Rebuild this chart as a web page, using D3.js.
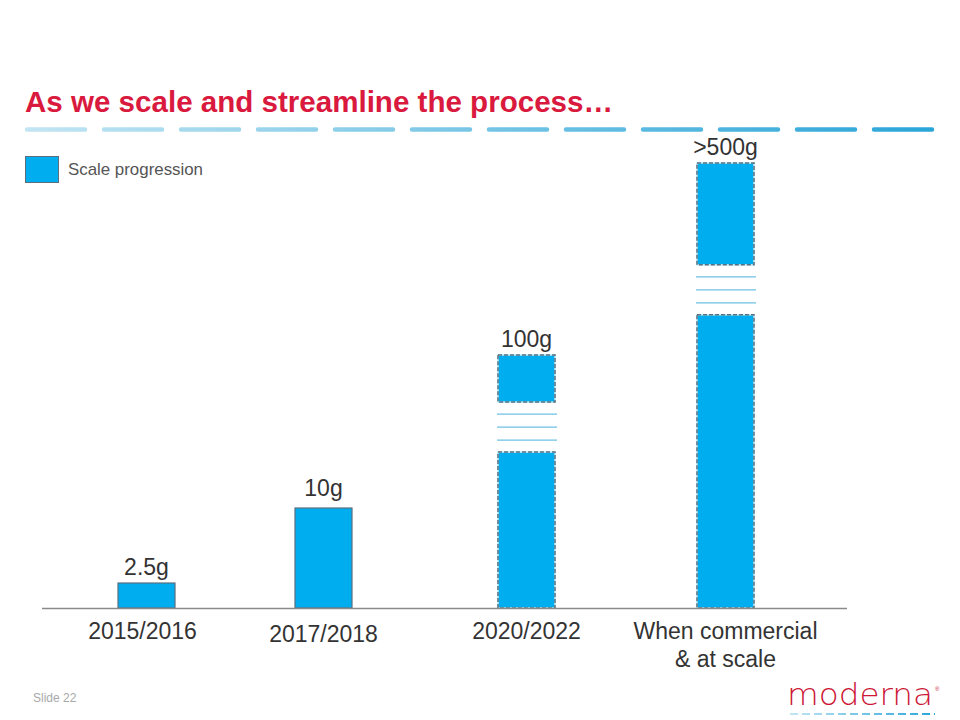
<!DOCTYPE html>
<html>
<head>
<meta charset="utf-8">
<script src="https://cdn.jsdelivr.net/npm/d3@7/dist/d3.min.js"></script>
<style>
  html, body { margin: 0; padding: 0; background: #fff; }
  svg { display: block; }
</style>
</head>
<body>
<script>
// ---------- DATA ----------
const categories = ["2015/2016", "2017/2018", "2020/2022", "When commercial\n& at scale"];
const values = [2.5, 10, 100, 500];
const valueLabels = ["2.5g", "10g", "100g", ">500g"];
const brokenAxis = [false, false, true, true];
const seriesName = "Scale progression";
const titleText = "As we scale and streamline the process…";

// ---------- SETUP ----------
const W = 960, H = 720;
const svg = d3.select("body").append("svg").attr("width", W).attr("height", H);
const defs = svg.append("defs");

const BAR_FILL = "#00ADEF";
const BAR_STROKE = "#5B6F7E";
const FONT = "'Liberation Sans', Arial, sans-serif";

function grad(id, x1, x2, c1, c2) {
  const g = defs.append("linearGradient").attr("id", id)
    .attr("gradientUnits", "userSpaceOnUse")
    .attr("x1", x1).attr("x2", x2).attr("y1", 0).attr("y2", 0);
  g.append("stop").attr("offset", 0).attr("stop-color", c1);
  g.append("stop").attr("offset", 1).attr("stop-color", c2);
}
grad("titleGrad", 25, 935, "#C2E5F3", "#2AA5D8");
grad("logoGrad", 790, 935, "#C2E5F3", "#2AA5D8");

// ---------- TITLE ----------
svg.append("text")
  .attr("x", 25).attr("y", 112)
  .attr("font-family", FONT)
  .attr("font-weight", "bold")
  .attr("font-size", 30)
  .attr("fill", "#D9193D")
  .attr("textLength", 588).attr("lengthAdjust", "spacingAndGlyphs")
  .text(titleText);

svg.append("line")
  .attr("x1", 27).attr("x2", 934).attr("y1", 129.5).attr("y2", 129.5)
  .attr("stroke", "url(#titleGrad)").attr("stroke-width", 4.5)
  .attr("stroke-linecap", "round")
  .attr("stroke-dasharray", "58 19");

// ---------- LEGEND ----------
svg.append("rect")
  .attr("x", 25.5).attr("y", 156.5).attr("width", 33).attr("height", 26)
  .attr("fill", BAR_FILL).attr("stroke", BAR_STROKE).attr("stroke-width", 1);
svg.append("text")
  .attr("x", 68).attr("y", 174.5)
  .attr("font-family", FONT)
  .attr("font-size", 17).attr("fill", "#555")
  .attr("textLength", 135).attr("lengthAdjust", "spacingAndGlyphs")
  .text(seriesName);

// ---------- SCALES ----------
const baseY = 608;
// broken (piecewise) value axis
const y = d3.scaleLinear().domain([0, 10, 100, 500]).range([baseY, 508, 355, 163]);
// category centres
const x = d3.scaleLinear().domain([0, 1, 2, 3]).range([146.5, 323.5, 526.5, 725.5]);
const barW = 57;

// ---------- BARS ----------
const data = categories.map((c, i) => ({ c, i, v: values[i], label: valueLabels[i], broken: brokenAxis[i] }));
const g = svg.append("g");

data.forEach(d => {
  const cx = x(d.i);
  const x0 = cx - barW / 2;
  const top = y(d.v);
  const h = baseY - top;
  if (!d.broken) {
    g.append("rect")
      .attr("x", x0).attr("y", top).attr("width", barW).attr("height", h)
      .attr("fill", BAR_FILL).attr("stroke", BAR_STROKE).attr("stroke-width", 1.2);
  } else {
    const gc = top + 0.285 * h;   // gap centre
    const half = 25;
    const segs = [[top, gc - half], [gc + half, baseY]];
    segs.forEach(([a, b]) => {
      g.append("rect")
        .attr("x", x0).attr("y", a).attr("width", barW).attr("height", b - a)
        .attr("fill", BAR_FILL).attr("stroke", "#B8ECFA").attr("stroke-width", 1.5);
      g.append("rect")
        .attr("x", x0).attr("y", a).attr("width", barW).attr("height", b - a)
        .attr("fill", "none").attr("stroke", BAR_STROKE).attr("stroke-width", 1.5)
        .attr("stroke-dasharray", "4 2");
    });
    [-13, 0, 13].forEach(off => {
      g.append("line")
        .attr("x1", x0 - 1).attr("x2", x0 + barW + 2)
        .attr("y1", gc + off).attr("y2", gc + off)
        .attr("stroke", "#6EC1E6").attr("stroke-width", 1.3);
    });
  }
  g.append("text")
    .attr("x", cx).attr("y", top - (d.i === 1 ? 12 : 8))
    .attr("text-anchor", "middle")
    .attr("font-family", FONT).attr("font-size", 23).attr("fill", "#333")
    .text(d.label);
});

// baseline
svg.append("line")
  .attr("x1", 42).attr("x2", 847).attr("y1", baseY + 0.5).attr("y2", baseY + 0.5)
  .attr("stroke", "#8A8A8A").attr("stroke-width", 1.5);

// category labels
data.forEach(d => {
  const lx = x(d.i) - (d.i === 0 ? 4 : 0);
  const t = svg.append("text")
    .attr("x", lx).attr("y", d.i === 1 ? 642 : 639)
    .attr("text-anchor", "middle")
    .attr("font-family", FONT).attr("font-size", 23).attr("fill", "#333");
  d.c.split("\n").forEach((line, k) => {
    t.append("tspan").attr("x", lx).attr("dy", k === 0 ? 0 : 28).text(line);
  });
});

// ---------- FOOTER ----------
svg.append("text")
  .attr("x", 33).attr("y", 702)
  .attr("font-family", FONT).attr("font-size", 12).attr("fill", "#A8A8A8")
  .text("Slide 22");

svg.append("text")
  .attr("x", 787).attr("y", 705)
  .attr("font-family", "'DejaVu Sans', sans-serif")
  .attr("font-weight", 300)
  .attr("font-size", 31).attr("fill", "#CC1736")
  .attr("textLength", 146).attr("lengthAdjust", "spacingAndGlyphs")
  .text("moderna");
svg.append("text")
  .attr("x", 935).attr("y", 691)
  .attr("font-family", FONT).attr("font-size", 6).attr("fill", "#CC1736")
  .text("®");
svg.append("line")
  .attr("x1", 790).attr("x2", 935).attr("y1", 714).attr("y2", 714)
  .attr("stroke", "url(#logoGrad)").attr("stroke-width", 2)
  .attr("stroke-dasharray", "8 4");
</script>
</body>
</html>
